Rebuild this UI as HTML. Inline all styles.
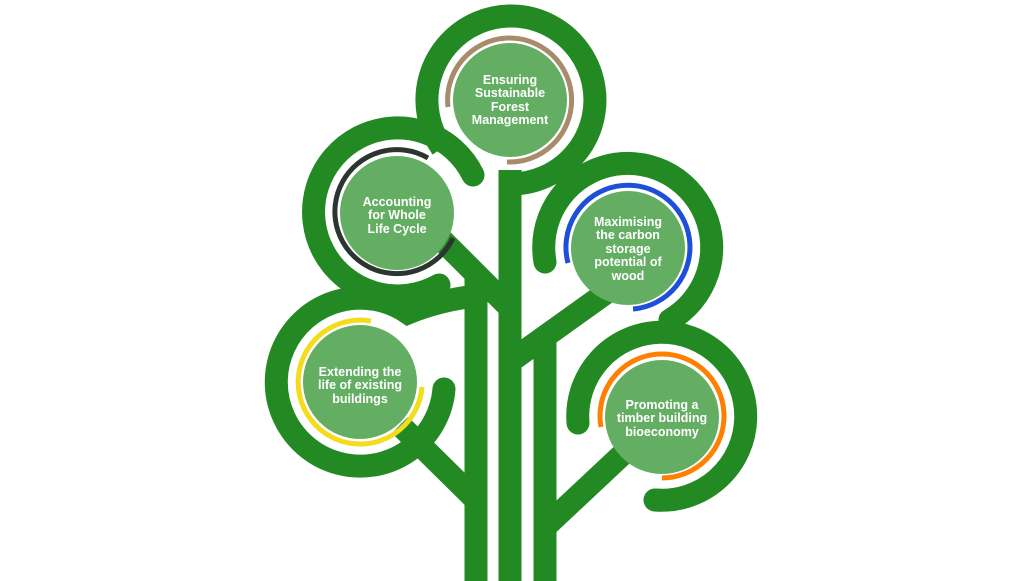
<!DOCTYPE html>
<html><head><meta charset="utf-8"><style>
html,body{margin:0;padding:0;background:#fff;}
svg{display:block;}
text{font-family:"Liberation Sans",Arial,sans-serif;font-weight:bold;font-size:12.5px;fill:#fff;text-anchor:middle;}
</style></head><body>
<svg width="1024" height="581" viewBox="0 0 1024 581" xmlns="http://www.w3.org/2000/svg">
<g fill="none" stroke="#238a23" stroke-width="23">
  <path d="M442 148 A84 84 0 1 1 511 184"/>
  <path d="M439 285 A84 84 0 1 1 473 175" stroke-linecap="round"/>
  <path d="M545 262 A84 84 0 1 1 670 320" stroke-linecap="round"/>
  <path d="M578 423 A84 84 0 1 1 655 500" stroke-linecap="round"/>
  <path d="M444 389 A84 84 0 1 1 408 313 Q440 300 476 296" stroke-linecap="round"/>
  <path d="M510 170 L510 581"/>
  <path d="M476 274 L476 581"/>
  <path d="M545 335 L545 581"/>
  <path d="M430 228 L510 308"/>
  <path d="M400 425 L476 500"/>
  <path d="M610 290 L515 358"/>
  <path d="M625 452 L545 527"/>
</g>
<g fill="none" stroke-width="5">
  <path d="M448 107 A62 62 0 1 1 507 162" stroke="#a88b6b"/>
  <path d="M453 238 A62 62 0 1 1 428 158" stroke="#2d3530"/>
  <path d="M568 263 A62 62 0 1 1 633 309" stroke="#1e4fd8"/>
  <path d="M422 387 A62 62 0 1 1 371 321" stroke="#f2dc1c"/>
  <path d="M601 427 A62 62 0 1 1 662 478" stroke="#ff8000"/>
</g>
<g fill="#64ae64">
  <circle cx="510" cy="100" r="57"/>
  <circle cx="397" cy="213" r="57"/>
  <circle cx="628" cy="248" r="57"/>
  <circle cx="360" cy="382" r="57"/>
  <circle cx="662" cy="417" r="57"/>
</g>
<text x="510" y="84">Ensuring</text>
<text x="510" y="97">Sustainable</text>
<text x="510" y="111">Forest</text>
<text x="510" y="124">Management</text>
<text x="397" y="206">Accounting</text>
<text x="397" y="219">for Whole</text>
<text x="397" y="233">Life Cycle</text>
<text x="628" y="226">Maximising</text>
<text x="628" y="239">the carbon</text>
<text x="628" y="253">storage</text>
<text x="628" y="266">potential of</text>
<text x="628" y="280">wood</text>
<text x="360" y="376">Extending the</text>
<text x="360" y="389">life of existing</text>
<text x="360" y="403">buildings</text>
<text x="662" y="409">Promoting a</text>
<text x="662" y="422">timber building</text>
<text x="662" y="436">bioeconomy</text>
</svg>
</body></html>
